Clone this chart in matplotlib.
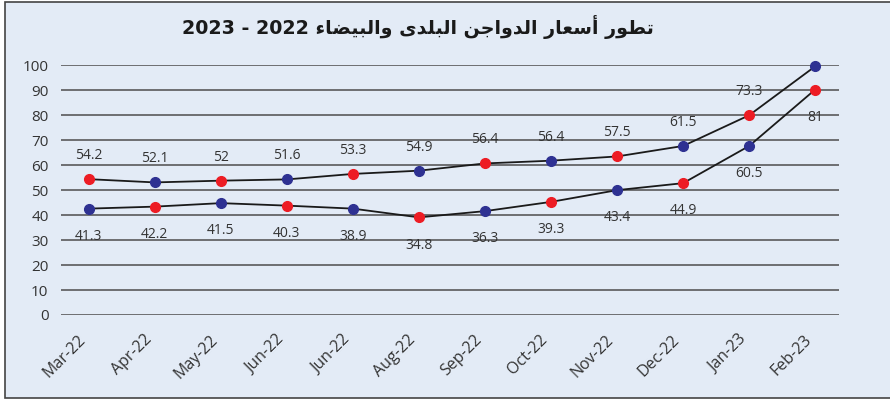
import matplotlib.pyplot as plt
import matplotlib.patches as patches
import numpy as np

months = ['Mar-22', 'Apr-22', 'May-22', 'Jun-22', 'Jun-22', 'Aug-22',
          'Sep-22', 'Oct-22', 'Nov-22', 'Dec-22', 'Jan-23', 'Feb-23']
upper = [54.4, 53.1, 53.8, 54.3, 56.5, 57.8, 60.7, 61.8, 63.5, 67.7, 80.0, 99.6]
lower = [42.6, 43.4, 44.8, 43.8, 42.6, 39.1, 41.6, 45.3, 50.0, 52.8, 67.7, 90.3]
upper_labels = ['54.2', '52.1', '52', '51.6', '53.3', '54.9', '56.4', '56.4', '57.5', '61.5', '73.3', '']
lower_labels = ['41.3', '42.2', '41.5', '40.3', '38.9', '34.8', '36.3', '39.3', '43.4', '44.9', '60.5', '81']
yticks = [0, 10, 20, 30, 40, 50, 60, 70, 80, 90, 100]

title_ar = 'تطور أسعار الدواجن البلدى والبيضاء'
title_num = '2023 - 2022'

RED = '#ed1c24'
BLUE = '#2e3192'
BG = '#e3ebf6'

# arabic contextual forms: iso, final, initial, medial (None = does not join forward)
FORMS = {
    'ء': ('\ufe80', None, None, None),
    'أ': ('\ufe83', '\ufe84', None, None),
    'ا': ('\ufe8d', '\ufe8e', None, None),
    'ب': ('\ufe8f', '\ufe90', '\ufe91', '\ufe92'),
    'ت': ('\ufe95', '\ufe96', '\ufe97', '\ufe98'),
    'ج': ('\ufe9d', '\ufe9e', '\ufe9f', '\ufea0'),
    'د': ('\ufea9', '\ufeaa', None, None),
    'ر': ('\ufead', '\ufeae', None, None),
    'س': ('\ufeb1', '\ufeb2', '\ufeb3', '\ufeb4'),
    'ض': ('\ufebd', '\ufebe', '\ufebf', '\ufec0'),
    'ط': ('\ufec1', '\ufec2', '\ufec3', '\ufec4'),
    'ع': ('\ufec9', '\ufeca', '\ufecb', '\ufecc'),
    'ل': ('\ufedd', '\ufede', '\ufedf', '\ufee0'),
    'ن': ('\ufee5', '\ufee6', '\ufee7', '\ufee8'),
    'و': ('\ufeed', '\ufeee', None, None),
    'ى': ('\ufeef', '\ufef0', None, None),
    'ي': ('\ufef1', '\ufef2', '\ufef3', '\ufef4'),
}


def shape_arabic(text):
    out = []
    for i, ch in enumerate(text):
        if ch not in FORMS:
            out.append(ch)
            continue
        prev = text[i - 1] if i > 0 else ' '
        nxt = text[i + 1] if i + 1 < len(text) else ' '
        join_prev = prev in FORMS and FORMS[prev][2] is not None and FORMS[ch][1] is not None
        join_next = FORMS[ch][2] is not None and nxt in FORMS and FORMS[nxt][1] is not None
        f = FORMS[ch]
        if join_prev and join_next:
            out.append(f[3])
        elif join_prev:
            out.append(f[1])
        elif join_next:
            out.append(f[2])
        else:
            out.append(f[0])
    return ''.join(out)[::-1]


fig = plt.figure(figsize=(8.9, 4.0), dpi=100)
fig.patch.set_facecolor('white')
fig.patches.append(patches.Rectangle((5 / 890, 2 / 400), 1, 396 / 400, transform=fig.transFigure,
                                     facecolor=BG, edgecolor='#444444', linewidth=1.2, zorder=-1))

ax = fig.add_axes([61 / 890, 1 - 315 / 400, (839 - 61) / 890, (315 - 65.3) / 400])
ax.patch.set_alpha(0)

x = np.arange(len(months))
ax.plot(x, upper, color='#1a1a1a', linewidth=1.3, zorder=3, clip_on=False)
ax.plot(x, lower, color='#1a1a1a', linewidth=1.3, zorder=3, clip_on=False)
for i in x:
    c_up = RED if i % 2 == 0 else BLUE
    c_lo = BLUE if i % 2 == 0 else RED
    ax.plot(i, upper[i], 'o', color=c_up, markersize=7, zorder=4, clip_on=False)
    ax.plot(i, lower[i], 'o', color=c_lo, markersize=7, zorder=4, clip_on=False)
    ax.annotate(upper_labels[i], (i, upper[i]), xytext=(0, 17), textcoords='offset points',
                ha='center', va='center', fontsize=10, color='#333333', family='Open Sans')
    ax.annotate(lower_labels[i], (i, lower[i]), xytext=(0, -20), textcoords='offset points',
                ha='center', va='center', fontsize=10, color='#333333', family='Open Sans')

ax.set_xlim(-0.42, len(months) - 1 + 0.36)
ax.set_ylim(0, 100)
ax.set_yticks(yticks)
ax.set_yticklabels([str(v) for v in yticks], family='Open Sans', fontsize=11, color='#333333')
ax.set_xticks(x)
ax.set_xticklabels(months, rotation=45, ha='right', family='Open Sans', fontsize=11.5, color='#333333')
ax.tick_params(axis='both', length=0)
ax.tick_params(axis='y', pad=9)
ax.tick_params(axis='x', pad=12)
ax.grid(axis='y', color='#4d4d4d', linewidth=1.1)
ax.set_axisbelow(True)
for s in ax.spines.values():
    s.set_visible(False)

fig.text(418 / 890, 1 - 27 / 400, title_num + ' ' + shape_arabic(title_ar), ha='center', va='center',
         fontsize=13.7, fontweight='bold', color='#1a1a1a', family='DejaVu Sans')

fig.savefig('out.png', dpi=100)
